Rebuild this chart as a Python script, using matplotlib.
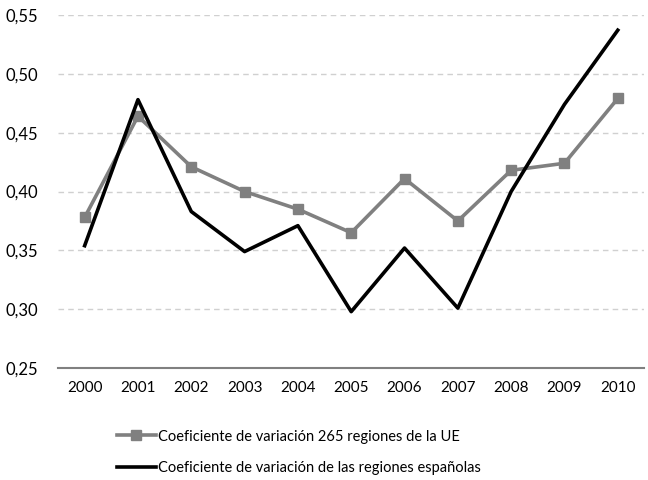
import matplotlib
matplotlib.use("Agg")
import matplotlib.pyplot as plt
from matplotlib.ticker import FuncFormatter

years = ["2000", "2001", "2002", "2003", "2004", "2005", "2006", "2007", "2008", "2009", "2010"]
eu_cv = [0.378, 0.464, 0.421, 0.400, 0.385, 0.365, 0.411, 0.375, 0.418, 0.424, 0.479]
es_cv = [0.354, 0.478, 0.383, 0.349, 0.371, 0.298, 0.352, 0.301, 0.400, 0.474, 0.537]
eu_label = "Coeficiente de variación 265 regiones de la UE"
es_label = "Coeficiente de variación de las regiones españolas"
yticks = [0.25, 0.30, 0.35, 0.40, 0.45, 0.50, 0.55]

plt.rcParams['font.family'] = ['Lato', 'DejaVu Sans']

fig = plt.figure(figsize=(6.48, 4.8), dpi=100)
ax = fig.add_axes([0.0895, 0.233, 0.905, 0.736])

x = list(range(len(years)))
ax.plot(x, eu_cv, color="#808080", lw=2.6, marker="s", markersize=7.5, label=eu_label, zorder=3)
ax.plot(x, es_cv, color="#000000", lw=2.6, label=es_label, zorder=4)

ax.set_xlim(-0.5, len(years) - 0.5)
ax.set_ylim(0.25, 0.55)
ax.set_yticks(yticks)
ax.yaxis.set_major_formatter(FuncFormatter(lambda v, p: f"{v:.2f}".replace(".", ",")))
ax.set_xticks(x)
ax.set_xticklabels(years)
ax.tick_params(axis="x", length=0, labelsize=11, colors="#000000", pad=9)
ax.tick_params(axis="y", length=0, labelsize=12, colors="#000000", pad=14)

for t in yticks[1:]:
    ax.axhline(t, color="#d0d0d0", lw=1, ls=(0, (4, 3)), zorder=1)

for s in ["top", "right", "left"]:
    ax.spines[s].set_visible(False)
ax.spines["bottom"].set_color("#808080")
ax.spines["bottom"].set_linewidth(1.5)

leg = fig.legend(loc="upper left", bbox_to_anchor=(0.18, 0.105), frameon=False,
                 fontsize=10.5, handlelength=2.7, handletextpad=0.15, labelspacing=1.2,
                 borderaxespad=0, borderpad=0)
fig.savefig("out.png", dpi=100)
